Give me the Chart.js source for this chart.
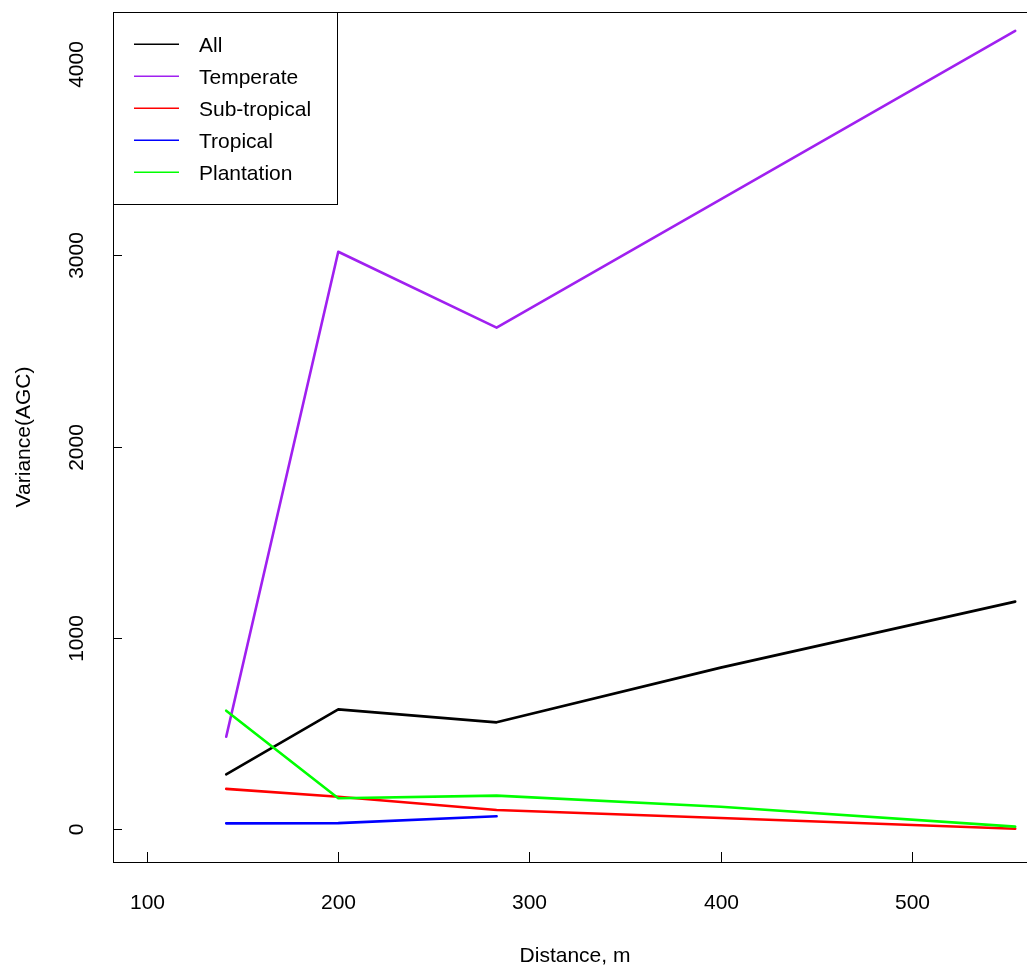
<!DOCTYPE html>
<html>
<head>
<meta charset="utf-8">
<script src="https://cdn.jsdelivr.net/npm/chart.js@4"></script>
<style>
  html, body { margin: 0; padding: 0; background: #fff; overflow: hidden; width: 1027px; height: 967px; }
  #wrap { width: 1060px; height: 967px; }
</style>
</head>
<body>
<div id="wrap"><canvas id="c" width="1060" height="967"></canvas></div>
<script>
// ---- data ----
const distances   = [141.4, 200, 282.8, 400, 554];
const allVals     = [287, 627, 559, 845, 1190];
const temperate   = [484, 3019, 2622, 3292, 4173];
const subtropical = [211, 170, 101, 59, 3];
const tropical    = [31, 32, 68];
const plantation  = [620, 162, 176, 118, 14];

const seriesNames  = ['All', 'Temperate', 'Sub-tropical', 'Tropical', 'Plantation'];
const seriesColors = ['#000000', '#A020F0', '#FF0000', '#0000FF', '#00FF00'];
const seriesValues = [allVals, temperate, subtropical, tropical, plantation];

const xTicks = [100, 200, 300, 400, 500];
const yTicks = [0, 1000, 2000, 3000, 4000];
const xTitle = 'Distance, m';
const yTitle = 'Variance(AGC)';

const FONT = '21px "Liberation Sans", Arial, sans-serif';

const datasets = seriesNames.map((name, i) => ({
  label: name,
  data: seriesValues[i].map((v, j) => ({ x: distances[j], y: v })),
  borderColor: seriesColors[i],
  backgroundColor: seriesColors[i],
  borderWidth: 2.6,
  pointRadius: 0,
  tension: 0,
  fill: false,
  order: seriesNames.length - i
}));

const rStyle = {
  id: 'rStyle',
  afterDraw(chart) {
    const ctx = chart.ctx;
    const a = chart.chartArea;
    const xs = chart.scales.x, ys = chart.scales.y;
    ctx.save();
    // plot box
    ctx.strokeStyle = '#000';
    ctx.lineWidth = 1;
    ctx.strokeRect(Math.round(a.left) + 0.5, Math.round(a.top) + 0.5,
                   Math.round(a.right - a.left), Math.round(a.bottom - a.top));
    ctx.fillStyle = '#000';
    ctx.font = FONT;
    // x ticks (inward) and labels
    ctx.textAlign = 'center';
    ctx.textBaseline = 'alphabetic';
    xTicks.forEach(t => {
      const px = Math.round(xs.getPixelForValue(t)) + 0.5;
      ctx.beginPath();
      ctx.moveTo(px, a.bottom);
      ctx.lineTo(px, a.bottom - 10);
      ctx.stroke();
      ctx.fillText(String(t), px, 909);
    });
    // y ticks (inward) and rotated labels
    yTicks.forEach(t => {
      const py = Math.round(ys.getPixelForValue(t)) + 0.5;
      ctx.beginPath();
      ctx.moveTo(a.left, py);
      ctx.lineTo(a.left + 9, py);
      ctx.stroke();
      ctx.save();
      ctx.translate(83, py);
      ctx.rotate(-Math.PI / 2);
      ctx.textAlign = 'center';
      ctx.textBaseline = 'alphabetic';
      ctx.fillText(String(t), 0, 0);
      ctx.restore();
    });
    // axis titles
    ctx.textAlign = 'center';
    ctx.fillText(xTitle, (a.left + a.right) / 2, 962);
    ctx.save();
    ctx.translate(30, (a.top + a.bottom) / 2);
    ctx.rotate(-Math.PI / 2);
    ctx.fillText(yTitle, 0, 0);
    ctx.restore();
    // legend (inside top-left)
    const lx = Math.round(a.left) + 0.5, ly = Math.round(a.top) + 0.5;
    ctx.fillStyle = '#fff';
    ctx.fillRect(lx, ly, 224, 192);
    ctx.strokeStyle = '#000';
    ctx.lineWidth = 1;
    ctx.strokeRect(lx, ly, 224, 192);
    ctx.textAlign = 'left';
    chart.data.datasets.forEach((ds, i) => {
      const yy = a.top + 32.3 + 32 * i;
      ctx.strokeStyle = ds.borderColor;
      ctx.lineWidth = 1.4;
      ctx.beginPath();
      ctx.moveTo(a.left + 21, yy);
      ctx.lineTo(a.left + 66, yy);
      ctx.stroke();
      ctx.fillStyle = '#000';
      ctx.fillText(ds.label, a.left + 86, yy + 7.5);
    });
    ctx.restore();
  }
};

new Chart(document.getElementById('c'), {
  type: 'line',
  data: { datasets },
  options: {
    responsive: false,
    animation: false,
    devicePixelRatio: 1,
    layout: { padding: { left: 105, top: 12, right: 23, bottom: 97 } },
    plugins: { legend: { display: false }, tooltip: { enabled: false } },
    elements: { line: { borderCapStyle: 'round', borderJoinStyle: 'round' } },
    scales: {
      x: {
        type: 'linear',
        min: 82.2, max: 565.4,
        ticks: { display: false },
        grid: { display: false },
        border: { display: false },
        title: { display: false }
      },
      y: {
        type: 'linear',
        min: -171, max: 4272,
        ticks: { display: false },
        grid: { display: false },
        border: { display: false },
        title: { display: false }
      }
    }
  },
  plugins: [rStyle]
});
</script>
</body>
</html>
